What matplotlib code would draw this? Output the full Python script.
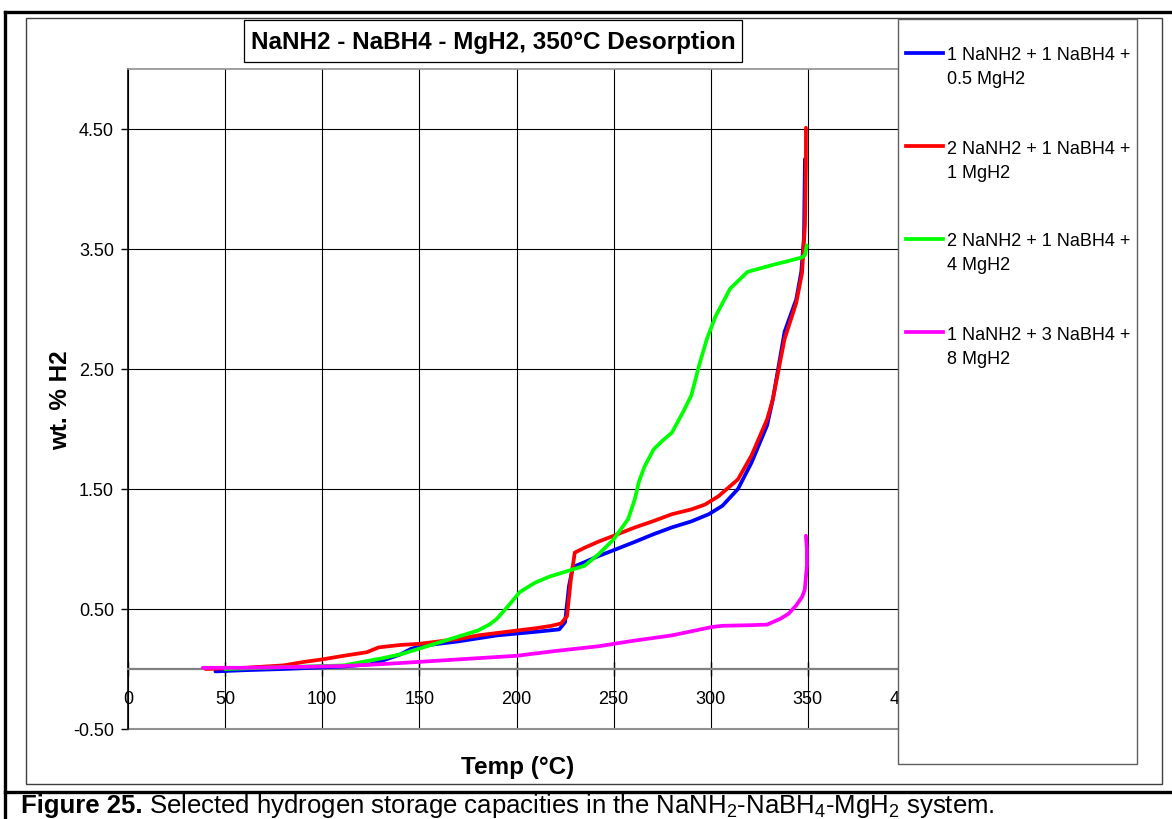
import matplotlib
matplotlib.use("Agg")
import matplotlib.pyplot as plt
from matplotlib.patches import Rectangle
from matplotlib.lines import Line2D

plt.rcParams["font.family"] = ["Liberation Sans", "DejaVu Sans"]
plt.rcParams["mathtext.fontset"] = "custom"
plt.rcParams["mathtext.rm"] = "Liberation Sans"

W, H = 1172, 820

# --- data (Temp in degC, wt. % H2) ---
blue_x = [45, 60, 80, 95, 110, 125, 131, 140, 146, 155, 170, 190, 210, 222, 225, 227, 229,
          235, 242, 250, 261, 270, 280, 290, 299, 306, 314, 321, 329, 332, 338, 344, 346.6,
          348, 348.3, 348.5]
blue_y = [-0.02, -0.01, 0.0, 0.01, 0.02, 0.04, 0.07, 0.12, 0.17, 0.2, 0.23, 0.28, 0.31, 0.33,
          0.39, 0.69, 0.85, 0.89, 0.94, 0.99, 1.06, 1.12, 1.18, 1.23, 1.29, 1.36, 1.50, 1.72,
          2.03, 2.25, 2.81, 3.08, 3.31, 3.6, 4.0, 4.25]

red_x = [40, 60, 80, 91, 100, 111, 123, 129, 140, 150, 160, 170, 180, 190, 200, 210, 218, 223,
         226, 228, 230, 235, 242, 250, 261, 270, 280, 290, 297, 304, 314, 321, 329, 332, 338,
         344, 347, 348.5, 349, 349]
red_y = [0.0, 0.01, 0.03, 0.06, 0.08, 0.11, 0.14, 0.18, 0.2, 0.21, 0.23, 0.25, 0.28, 0.3, 0.32,
         0.34, 0.36, 0.38, 0.44, 0.75, 0.97, 1.01, 1.06, 1.11, 1.18, 1.23, 1.29, 1.33, 1.37,
         1.44, 1.58, 1.78, 2.08, 2.25, 2.75, 3.05, 3.3, 3.7, 4.2, 4.51]

green_x = [50, 70, 90, 111, 121, 131, 141, 150, 160, 170, 180, 186, 190, 196, 201.6, 209.6,
           217, 225, 235, 242.5, 250, 257.5, 261, 263, 266, 270.6, 275, 280, 285.7, 290, 294,
           298, 302.5, 310, 319, 332.5, 340, 347, 348.5, 349.5]
green_y = [0.0, 0.01, 0.02, 0.03, 0.06, 0.09, 0.125, 0.17, 0.22, 0.27, 0.32, 0.37, 0.42, 0.53,
           0.64, 0.72, 0.77, 0.81, 0.86, 0.96, 1.08, 1.25, 1.42, 1.56, 1.69, 1.83, 1.90, 1.97,
           2.14, 2.28, 2.53, 2.75, 2.94, 3.17, 3.31, 3.37, 3.40, 3.43, 3.45, 3.53]

magenta_x = [38.5, 60, 80, 111, 130, 150.5, 175, 200, 220, 242.5, 260, 280, 300.6, 306, 320,
             329, 336, 340, 344, 347, 348.4, 349.5, 349.5, 349]
magenta_y = [0.01, 0.01, 0.015, 0.025, 0.04, 0.06, 0.085, 0.11, 0.15, 0.19, 0.235, 0.28, 0.35,
             0.36, 0.365, 0.37, 0.42, 0.46, 0.53, 0.6, 0.66, 0.86, 1.0, 1.11]

series = [
    ("1 NaNH2 + 1 NaBH4 +", "0.5 MgH2", blue_x, blue_y, "#0000FF"),
    ("2 NaNH2 + 1 NaBH4 +", "1 MgH2", red_x, red_y, "#FF0000"),
    ("2 NaNH2 + 1 NaBH4 +", "4 MgH2", green_x, green_y, "#00FF00"),
    ("1 NaNH2 + 3 NaBH4 +", "8 MgH2", magenta_x, magenta_y, "#FF00FF"),
]

x_ticks = [0, 50, 100, 150, 200, 250, 300, 350, 400]
y_ticks = [-0.5, 0.5, 1.5, 2.5, 3.5, 4.5]


def fx(x):
    return x / W


def fy(y):
    return 1 - y / H


fig = plt.figure(figsize=(W / 100, H / 100), dpi=100)
fig.patch.set_facecolor("white")

# plot area: x 128..905 px, y 70..730 px
ax = fig.add_axes([fx(128), fy(730), (905 - 128) / W, (730 - 70) / H])
for lab1, lab2, xs, ys, c in series:
    ax.plot(xs, ys, color=c, lw=2.7, solid_capstyle="round", zorder=3)

ax.set_xlim(0, 400)
ax.set_ylim(-0.5, 5.0)
ax.set_xticks(x_ticks)
ax.set_yticks(y_ticks)
ax.set_yticklabels([f"{v:.2f}" for v in y_ticks])
ax.grid(True, color="black", lw=0.8)
ax.set_axisbelow(True)

ax.spines["bottom"].set_position(("data", 0))
ax.spines["bottom"].set_color("#808080")
ax.spines["bottom"].set_linewidth(1.6)
ax.spines["top"].set_color("#909090")
ax.spines["top"].set_linewidth(1.2)
ax.spines["right"].set_visible(False)
ax.spines["left"].set_color("black")
ax.spines["left"].set_linewidth(1.2)
ax.axhline(-0.5, color="#909090", lw=1.5, zorder=2, clip_on=False)

ax.tick_params(axis="y", direction="out", length=5, width=1, pad=5, labelsize=13)
ax.tick_params(axis="x", direction="inout", length=10, width=1, pad=10, labelsize=13)

ax.set_xlabel("Temp (°C)", fontsize=17.5, fontweight="bold")
ax.xaxis.set_label_coords((518 - 128) / 777, -0.039)
ax.set_ylabel("wt. % H2", fontsize=17.5, fontweight="bold")
ax.yaxis.set_label_coords((72 - 128) / 777, 0.5)

# frames of the document table and the chart area
for (x0, y0, x1, y1) in [(5, 13, W, 13), (5, 13, 5, H), (5, 793, W, 793)]:
    fig.add_artist(Line2D([fx(x0), fx(x1)], [fy(y0), fy(y1)], color="black", lw=2.4,
                          transform=fig.transFigure))
fig.add_artist(Rectangle((fx(26), fy(785)), (1162 - 26) / W, (785 - 19) / H,
                         transform=fig.transFigure, fill=False, edgecolor="#404040", lw=1.0))

# title box
fig.add_artist(Rectangle((fx(244), fy(63)), (742 - 244) / W, (63 - 21) / H,
                         transform=fig.transFigure, facecolor="white", edgecolor="black",
                         lw=0.9, zorder=5))
fig.text(fx(493), fy(42), "NaNH2 - NaBH4 - MgH2, 350°C Desorption", fontsize=17.5,
         fontweight="bold", ha="center", va="center", zorder=6)

# legend box
fig.add_artist(Rectangle((fx(898), fy(765)), (1137 - 898) / W, (765 - 20) / H,
                         transform=fig.transFigure, facecolor="white", edgecolor="#606060",
                         lw=1.0, zorder=5))
for i, (lab1, lab2, xs, ys, c) in enumerate(series):
    yc = 54 + i * 93
    fig.add_artist(Line2D([fx(906), fx(943)], [fy(yc), fy(yc)], color=c, lw=2.7,
                          transform=fig.transFigure, zorder=6))
    fig.text(fx(947), fy(yc + 6.5), lab1, fontsize=13, ha="left", va="baseline", zorder=6)
    fig.text(fx(947), fy(yc + 30.5), lab2, fontsize=13, ha="left", va="baseline", zorder=6)

# caption below the chart
cap_size = 18.5
t1 = fig.text(fx(21), fy(813.5), "Figure 25.", fontsize=cap_size, fontweight="bold",
              ha="left", va="baseline")
fig.canvas.draw()
bb = t1.get_window_extent()
fig.text((bb.x1 + 6) / W, fy(813.5),
         r"Selected hydrogen storage capacities in the NaNH$_2$-NaBH$_4$-MgH$_2$ system.",
         fontsize=cap_size, ha="left", va="baseline")

fig.savefig("out.png", dpi=100)
